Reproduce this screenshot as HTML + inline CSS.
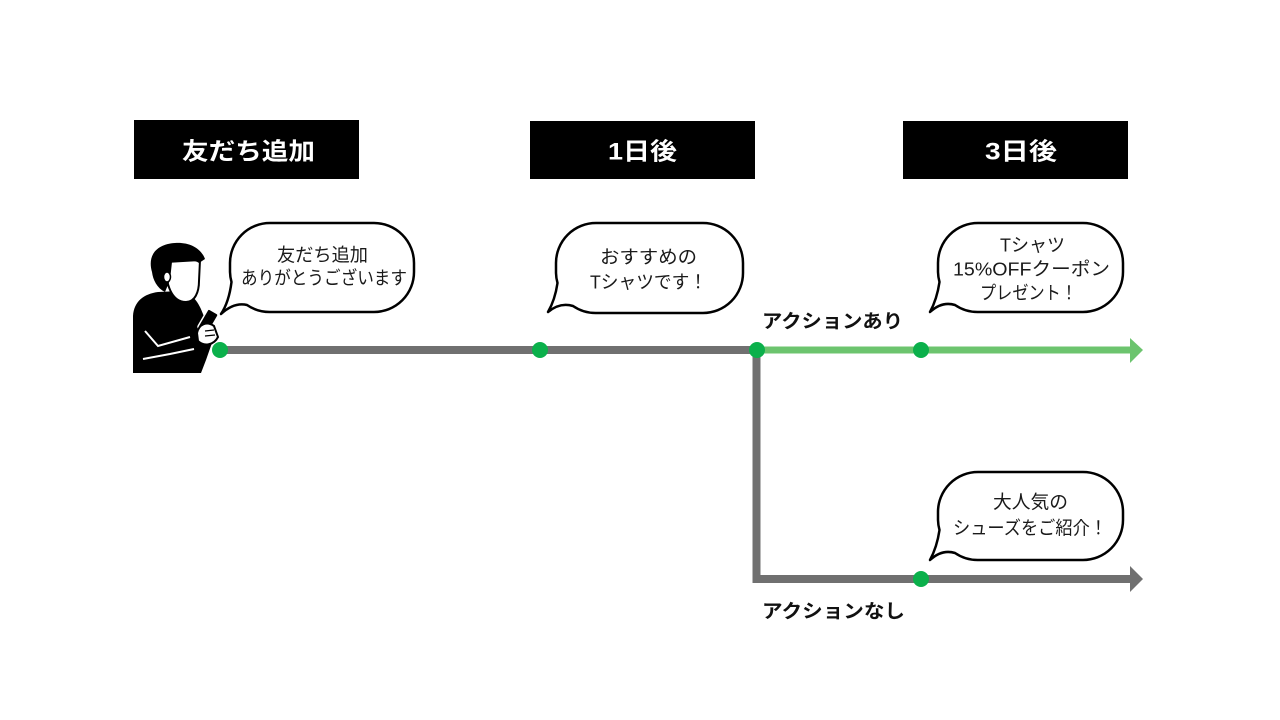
<!DOCTYPE html>
<html><head><meta charset="utf-8"><style>
html,body{margin:0;padding:0;background:#fff;}
svg{display:block;}
text{font-family:"Liberation Sans","Noto Sans CJK JP",sans-serif;}
</style></head><body>
<svg width="1280" height="720" viewBox="0 0 1280 720" xmlns="http://www.w3.org/2000/svg">
<rect width="1280" height="720" fill="#fff"/>

<!-- Header boxes -->
<rect x="134" y="120" width="225" height="59" fill="#000"/>
<rect x="530" y="121" width="225" height="58" fill="#000"/>
<rect x="903" y="121" width="225" height="58" fill="#000"/>
<text x="182" y="152" dominant-baseline="central" fill="#fff" font-size="24" font-weight="bold" textLength="133" lengthAdjust="spacingAndGlyphs">友だち追加</text>
<text x="608" y="152" dominant-baseline="central" fill="#fff" font-size="24" font-weight="bold" textLength="69" lengthAdjust="spacingAndGlyphs">1日後</text>
<text x="985" y="152" dominant-baseline="central" fill="#fff" font-size="24" font-weight="bold" textLength="72" lengthAdjust="spacingAndGlyphs">3日後</text>

<!-- Lines -->
<line x1="220" y1="350" x2="760" y2="350" stroke="#707070" stroke-width="8"/>
<line x1="756.5" y1="350" x2="756.5" y2="583" stroke="#707070" stroke-width="8"/>
<line x1="752.5" y1="579" x2="1132" y2="579" stroke="#707070" stroke-width="8"/>
<polygon points="1130,566 1143,579 1130,592" fill="#707070"/>
<line x1="757" y1="350" x2="1132" y2="350" stroke="#6cc46e" stroke-width="7"/>
<polygon points="1130,338 1143,350 1130,363" fill="#6cc46e"/>

<!-- Dots -->
<g fill="#0bb04b">
<circle cx="220" cy="350" r="8"/>
<circle cx="540" cy="350" r="8"/>
<circle cx="757" cy="350" r="8"/>
<circle cx="921" cy="350" r="8"/>
<circle cx="921" cy="579" r="8"/>
</g>

<!-- Bubbles -->
<g fill="#fff" stroke="#000" stroke-width="2.5" stroke-linejoin="round">
<path d="M270,223 H374 A40,40 0 0 1 414,263 V272 A40,40 0 0 1 374,312 H270 A40,40 0 0 1 247,305 Q234,302 221,314 Q229,302 231.5,282 A40,40 0 0 1 230,272 V263 A40,40 0 0 1 270,223 Z"/>
<path d="M596,223 H703 A40,40 0 0 1 743,263 V273 A40,40 0 0 1 703,313 H596 A40,40 0 0 1 573,306 Q560,302 548,312 Q555,300 557.5,283 A40,40 0 0 1 556,273 V263 A40,40 0 0 1 596,223 Z"/>
<path d="M978,223 H1083 A40,40 0 0 1 1123,263 V272 A40,40 0 0 1 1083,312 H978 A40,40 0 0 1 955,305 Q942,301 930,312 Q937,299 939.5,282 A40,40 0 0 1 938,272 V263 A40,40 0 0 1 978,223 Z"/>
<path d="M978,472 H1083 A40,40 0 0 1 1123,512 V520 A40,40 0 0 1 1083,560 H978 A40,40 0 0 1 955,553 Q942,549 930,560 Q937,547 939.5,530 A40,40 0 0 1 938,520 V512 A40,40 0 0 1 978,472 Z"/>
</g>

<!-- Bubble texts -->
<g fill="#1a1a1a" font-size="18.5">
<text x="277" y="255" textLength="91" lengthAdjust="spacingAndGlyphs" dominant-baseline="central">友だち追加</text>
<text x="241" y="278" textLength="166" lengthAdjust="spacingAndGlyphs" dominant-baseline="central">ありがとうございます</text>
<text x="600" y="257" textLength="97" lengthAdjust="spacingAndGlyphs" dominant-baseline="central">おすすめの</text>
<text x="590" y="282" textLength="117" lengthAdjust="spacingAndGlyphs" dominant-baseline="central">Tシャツです！</text>
<text x="1000" y="245" textLength="65" lengthAdjust="spacingAndGlyphs" dominant-baseline="central">Tシャツ</text>
<text x="953" y="269" textLength="157" lengthAdjust="spacingAndGlyphs" dominant-baseline="central">15%OFFクーポン</text>
<text x="980" y="293" textLength="97" lengthAdjust="spacingAndGlyphs" dominant-baseline="central">プレゼント！</text>
<text x="993" y="502" textLength="75" lengthAdjust="spacingAndGlyphs" dominant-baseline="central">大人気の</text>
<text x="953" y="528" textLength="154" lengthAdjust="spacingAndGlyphs" dominant-baseline="central">シューズをご紹介！</text>
</g>

<!-- Labels -->
<text x="762" y="322" fill="#111" font-size="19" font-weight="bold" dominant-baseline="central" textLength="141" lengthAdjust="spacingAndGlyphs">アクションあり</text>
<text x="762" y="612" fill="#111" font-size="19" font-weight="bold" dominant-baseline="central" textLength="143" lengthAdjust="spacingAndGlyphs">アクションなし</text>

<!-- Person -->
<g>
<path d="M133,373 L133,316 C134,301 144,294 158,292 L182,291 C193,294 199,303 203,314 L213,340 L206,360 L201,373 Z" fill="#000"/>
<polyline points="145,331 158,346 190,337" fill="none" stroke="#fff" stroke-width="2"/>
<polyline points="143,359 170,354 194,349" fill="none" stroke="#fff" stroke-width="2"/>
<path d="M166,262 C165,285 172,302 186,302 C195,302 199,292 199,281 L200,260 Z" fill="#fff" stroke="#000" stroke-width="2"/>
<path d="M152,272 C147,255 157,244 175,243 C189,242 201,248 205,259 L199,263 C192,258 182,263 172,262 L170,280 L165,292 C157,288 153,280 152,272 Z" fill="#000"/>
<ellipse cx="167" cy="277" rx="3.5" ry="5" fill="#fff" stroke="#000" stroke-width="1.5"/>
<g transform="rotate(30 208 321)">
<rect x="202" y="310" width="12" height="22" rx="2" fill="#000" stroke="#fff" stroke-width="1.5"/>
</g>
<path d="M197,333 C199,324 207,321 214,326 L218,337 C214,345 204,347 198,341 Z" fill="#fff" stroke="#000" stroke-width="2"/>
<line x1="205" y1="331" x2="214" y2="330" stroke="#000" stroke-width="1.2"/>
<line x1="205" y1="336" x2="215" y2="335" stroke="#000" stroke-width="1.2"/>
</g>
</svg>
</body></html>
